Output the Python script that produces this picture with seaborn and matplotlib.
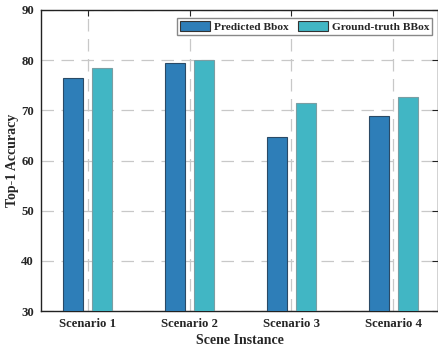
import matplotlib
matplotlib.use("Agg")
import matplotlib.pyplot as plt
import seaborn as sns
import pandas as pd

# Top-1 accuracy per scene, for predicted vs. ground-truth boxes
scenarios = ["Scenario 1", "Scenario 2", "Scenario 3", "Scenario 4"]
methods = ["Predicted Bbox", "Ground-truth BBox"]
predicted = [76.4, 79.4, 64.6, 68.9]
ground_truth = [78.4, 80.1, 71.5, 72.6]

df = pd.DataFrame({
    "Scene Instance": scenarios * 2,
    "Method": [methods[0]] * len(scenarios) + [methods[1]] * len(scenarios),
    "Top-1 Accuracy": predicted + ground_truth,
})

sns.set_style("white")
plt.rcParams["font.family"] = ["Liberation Serif", "DejaVu Serif"]
plt.rcParams["font.weight"] = "bold"

fig = plt.figure(figsize=(4.39, 3.49), dpi=100)
ax = fig.add_axes([41 / 439, 38 / 349, 397 / 439, 301 / 349])

palette = {methods[0]: "#2E7EB8", methods[1]: "#41B6C4"}
sns.barplot(data=df, x="Scene Instance", y="Top-1 Accuracy", hue="Method",
            palette=palette, width=0.57, gap=0.31, saturation=1,
            edgecolor="#333333", linewidth=0.8, ax=ax, zorder=3)

# darker edge for predicted, lighter edge for ground-truth bars
for patch, lab in zip(ax.patches, [methods[0]] * 4 + [methods[1]] * 4):
    patch.set_edgecolor("#2a4a66" if lab == methods[0] else "#7a9ea3")

ax.set_ylim(30, 90)
ax.set_xlim(-0.46, 3.44)
ax.set_yticks(range(30, 91, 10))
ax.grid(True, linestyle=(0, (10, 6)), color="#c8c8c8", linewidth=0.9, zorder=0)
ax.set_axisbelow(True)

for s in ax.spines.values():
    s.set_color("#222222")
    s.set_linewidth(1.0)

ax.tick_params(direction="in", top=True, right=True, length=4, width=0.8,
               labelsize=9.2, color="#222222", pad=5)
for lbl in ax.get_xticklabels() + ax.get_yticklabels():
    lbl.set_fontweight("bold")

ax.set_xlabel("Scene Instance", fontsize=10, fontweight="bold", labelpad=3)
ax.set_ylabel("Top-1 Accuracy", fontsize=10, fontweight="bold", labelpad=2)

leg = ax.legend(loc="upper right", bbox_to_anchor=(0.985, 0.973), ncol=2,
                fontsize=8.2, frameon=True, fancybox=False, framealpha=1,
                edgecolor="#888888", handlelength=2.7, handleheight=1.0,
                columnspacing=0.8, handletextpad=0.3, borderpad=0.25,
                borderaxespad=0.0, title=None)
for t in leg.get_texts():
    t.set_fontweight("bold")

fig.savefig("out.png", dpi=100)
